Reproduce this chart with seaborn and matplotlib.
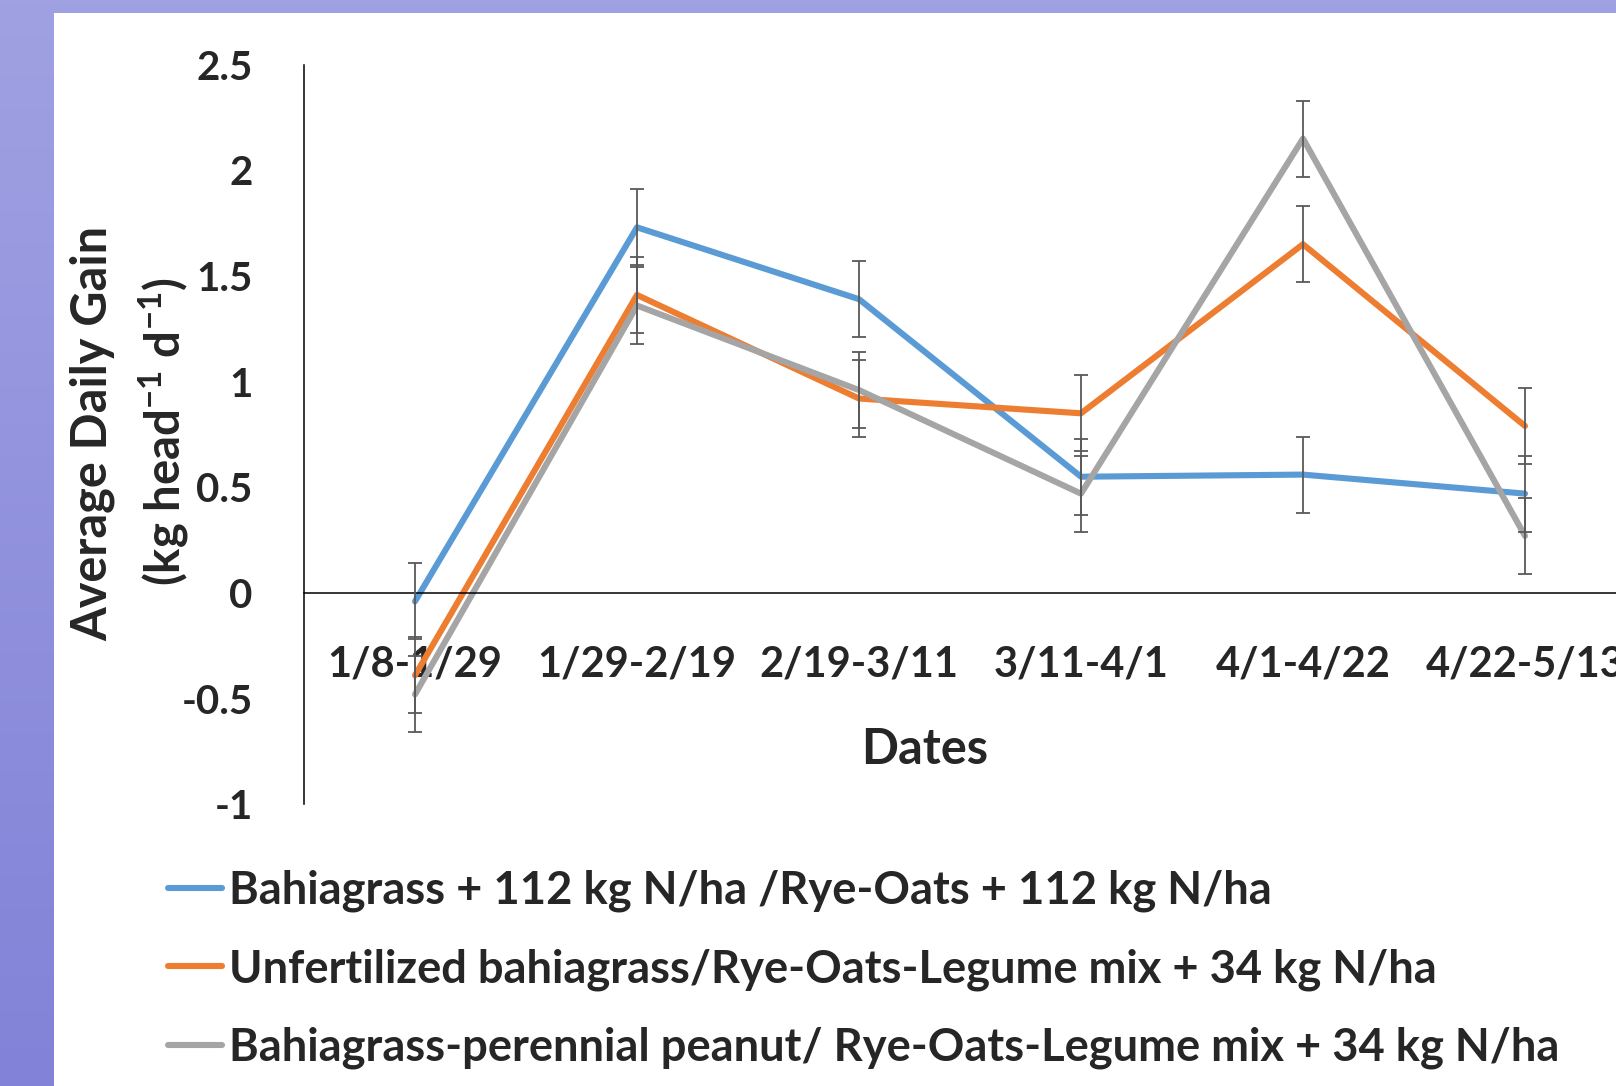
import numpy as np
import pandas as pd
import matplotlib.pyplot as plt
import matplotlib.font_manager as fm
from matplotlib.patches import Rectangle
import seaborn as sns

# Periodos de pastejo (eixo x)
periods = ["1/8-1/29", "1/29-2/19", "2/19-3/11", "3/11-4/1", "4/1-4/22", "4/22-5/13"]

treatments = [
    "Bahiagrass + 112 kg N/ha /Rye-Oats + 112 kg N/ha",
    "Unfertilized bahiagrass/Rye-Oats-Legume mix + 34 kg N/ha",
    "Bahiagrass-perennial peanut/ Rye-Oats-Legume mix + 34 kg N/ha",
]

# Ganho medio diario (kg/cabeca/dia)
adg_bahia_n = [-0.04, 1.73, 1.39, 0.55, 0.56, 0.47]
adg_unfert = [-0.39, 1.41, 0.92, 0.85, 1.65, 0.79]
adg_peanut = [-0.48, 1.36, 0.96, 0.47, 2.15, 0.27]

# barras de erro (+/-)
err_bahia_n = [0.18, 0.18, 0.18, 0.18, 0.18, 0.18]
err_unfert = [0.18, 0.18, 0.18, 0.18, 0.18, 0.18]
err_peanut = [0.18, 0.18, 0.18, 0.18, 0.18, 0.18]

yticks = [-1, -0.5, 0, 0.5, 1, 1.5, 2, 2.5]
ytick_labels = ["-1", "-0.5", "0", "0.5", "1", "1.5", "2", "2.5"]

colors = ["#5B9BD5", "#ED7D31", "#A5A5A5"]

W, H = 1616, 1086

sns.set_style("white")
installed = {f.name for f in fm.fontManager.ttflist}
MAIN_FONT = "Lato" if "Lato" in installed else "DejaVu Sans"
plt.rcParams["font.family"] = [MAIN_FONT, "DejaVu Sans"]
plt.rcParams["font.weight"] = "bold"
plt.rcParams["mathtext.fontset"] = "custom"
plt.rcParams["mathtext.rm"] = f"{MAIN_FONT}:bold"
plt.rcParams["mathtext.it"] = f"{MAIN_FONT}:bold"
plt.rcParams["mathtext.bf"] = f"{MAIN_FONT}:bold"
plt.rcParams["mathtext.default"] = "regular"

df = pd.DataFrame({
    "x": list(range(len(periods))) * 3,
    "adg": adg_bahia_n + adg_unfert + adg_peanut,
    "err": err_bahia_n + err_unfert + err_peanut,
    "treatment": [t for t in treatments for _ in periods],
})

fig = plt.figure(figsize=(W / 100, H / 100), dpi=100)

# fundo em degrade roxo (moldura do slide)
bg = fig.add_axes([0, 0, 1, 1], zorder=-2)
rows = np.linspace(0, 1, 200)[:, None, None]
top_c = np.array([160, 161, 226]) / 255
bot_c = np.array([130, 130, 216]) / 255
grad = top_c * (1 - rows) + bot_c * rows
grad = np.repeat(grad, 4, axis=1)
bg.imshow(grad, aspect="auto", extent=[0, 1, 0, 1])
bg.set_axis_off()
fig.add_artist(Rectangle((54 / W, 0), 1, 1 - 13 / H, transform=fig.transFigure,
                         facecolor="white", edgecolor="none", zorder=-1))

ax_left = 304 / W
ax_bottom = (H - 804.3) / H
ax_top = (H - 64.6) / H
ax = fig.add_axes([ax_left, ax_bottom, 1332 / W, ax_top - ax_bottom])
ax.set_facecolor("none")

sns.lineplot(data=df, x="x", y="adg", hue="treatment", palette=colors,
             linewidth=4.4, ax=ax, legend=True)
for t in treatments:
    sub = df[df["treatment"] == t]
    ax.errorbar(sub["x"], sub["adg"], yerr=sub["err"], fmt="none",
                ecolor="#595959", elinewidth=1.3, capsize=4.8, capthick=1.3, zorder=4)

handles, labels = ax.get_legend_handles_labels()
ax.get_legend().remove()

# eixo x cruza em zero (tem que vir antes dos ticks, senao reseta)
for s in ["top", "right"]:
    ax.spines[s].set_visible(False)
ax.spines["bottom"].set_position(("data", 0))
ax.spines["left"].set_color("black")
ax.spines["left"].set_linewidth(1.1)
ax.spines["bottom"].set_color("black")
ax.spines["bottom"].set_linewidth(1.1)

ax.set_xlim(-0.5, 5.5)
ax.set_ylim(-1, 2.5)
ax.set_xticks(range(len(periods)))
ax.set_xticklabels(periods)
ax.set_yticks(yticks)
ax.set_yticklabels(ytick_labels)
ax.tick_params(axis="y", length=0, pad=37, labelsize=29)
ax.tick_params(axis="x", length=0, pad=38, labelsize=30)

ax.set_xlabel("Dates", fontsize=35, fontweight="bold")
ax.xaxis.set_label_coords(621 / 1332, 0.104)
ax.set_ylabel("")

fig.text(93 / W, (H - 433) / H, "Average Daily Gain", rotation=90,
         ha="center", va="center", fontsize=35, fontweight="bold")
fig.text(163 / W, (H - 432) / H, r"(kg head$^{-1}$ d$^{-1}$)", rotation=90,
         ha="center", va="center", fontsize=34, fontweight="bold")

for h in handles:
    h.set_linewidth(4.4)
    h.set_solid_capstyle("round")
leg = fig.legend(handles, labels, loc="upper left", bbox_to_anchor=(168 / W, 1 - 870 / H),
                 frameon=False, borderpad=0, borderaxespad=0, handlelength=1.2,
                 handletextpad=0.15, labelspacing=0.79,
                 prop={"family": MAIN_FONT, "weight": "bold", "size": 32.6})

fig.savefig("out.png", dpi=100)
